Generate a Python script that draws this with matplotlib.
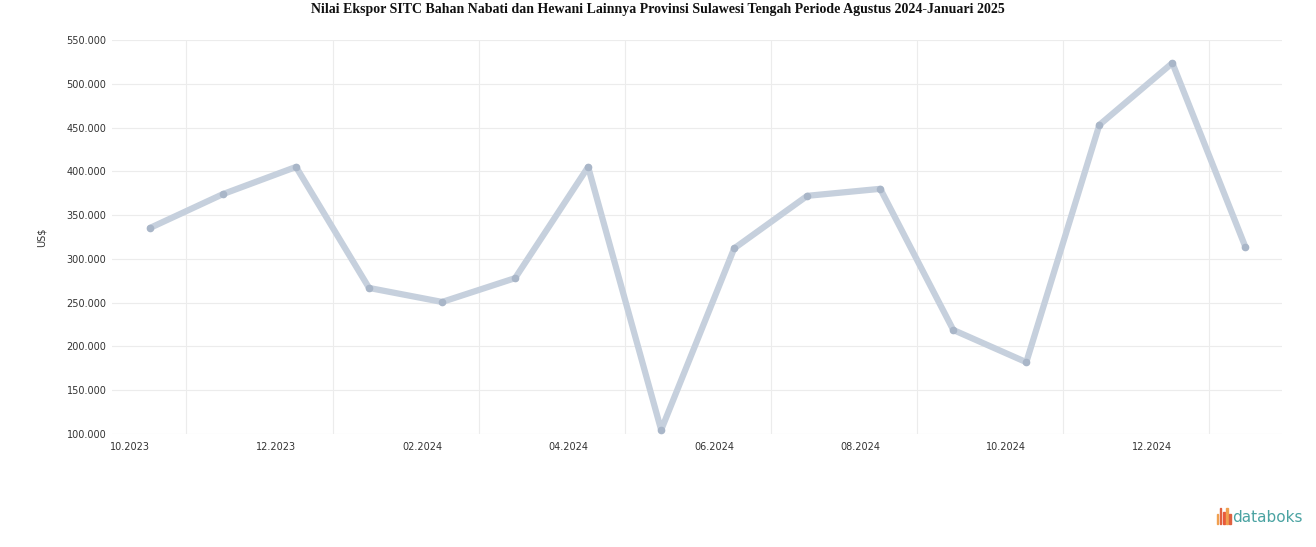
import matplotlib.pyplot as plt
from matplotlib.patches import Rectangle
from matplotlib.ticker import FuncFormatter, FixedLocator

# monthly export value (US$), Oct 2023 .. Jan 2025
months = ["10.2023", "11.2023", "12.2023", "01.2024", "02.2024", "03.2024", "04.2024", "05.2024",
          "06.2024", "07.2024", "08.2024", "09.2024", "10.2024", "11.2024", "12.2024", "01.2025"]
values = [335300, 374000, 405000, 266800, 250800, 278000, 405000, 104600,
          312000, 372000, 380000, 218800, 182000, 453000, 523700, 313600]
yticks = [100000, 150000, 200000, 250000, 300000, 350000, 400000, 450000, 500000, 550000]

title = "Nilai Ekspor SITC Bahan Nabati dan Hewani Lainnya Provinsi Sulawesi Tengah Periode Agustus 2024-Januari 2025"

fig = plt.figure(figsize=(13.16, 5.47), dpi=100)
ax = fig.add_axes([0.0851, 0.2066, 0.889, 0.7203])

x = list(range(len(values)))
ax.plot(x, values, color="#c6d0dd", lw=4.5, solid_joinstyle="round", solid_capstyle="round",
        marker="o", ms=4.5, mfc="#a9b6c8", mec="#a9b6c8", zorder=3)

ax.set_xlim(-0.52, len(values) - 0.5)
ax.set_ylim(yticks[0], yticks[-1])
ax.set_yticks(yticks)
ax.yaxis.set_major_formatter(FuncFormatter(lambda v, p: f"{int(v):,}".replace(",", ".")))

# labels on every second month, right-aligned at the point
ax.xaxis.set_major_locator(FixedLocator(x[::2]))
ax.set_xticklabels(months[::2], ha="right")
ax.xaxis.set_minor_locator(FixedLocator([i + 0.5 for i in x[::2]]))

ax.grid(axis="y", which="major", color="#ececec", lw=0.8)
ax.grid(axis="x", which="minor", color="#ececec", lw=0.8)
ax.grid(axis="x", which="major", visible=False)
ax.tick_params(axis="both", which="both", length=0, labelsize=7, labelcolor="#333333")
ax.tick_params(axis="y", pad=4)
ax.tick_params(axis="x", pad=6)
for s in ax.spines.values():
    s.set_visible(False)

ax.set_ylabel("US$", fontsize=7, color="#333333", labelpad=14)

fig.text(0.5, 0.995, title, ha="center", va="top", fontsize=10, fontweight="bold",
         family="Liberation Serif", color="#111111")

# databoks mark
fig.text(0.9895, 0.054, "databoks", ha="right", va="center", fontsize=11,
         color="#4aa3a2", family="DejaVu Sans")
bar_cols = ["#f0a050", "#e06040", "#e85a3c", "#f0a050", "#e06040"]
bar_h = [0.018, 0.030, 0.022, 0.030, 0.018]
for i, (c, h) in enumerate(zip(bar_cols, bar_h)):
    fig.patches.append(Rectangle((0.9245 + i * 0.0024, 0.042), 0.0012, h,
                                 transform=fig.transFigure, color=c))

fig.savefig("out.png", dpi=100)
